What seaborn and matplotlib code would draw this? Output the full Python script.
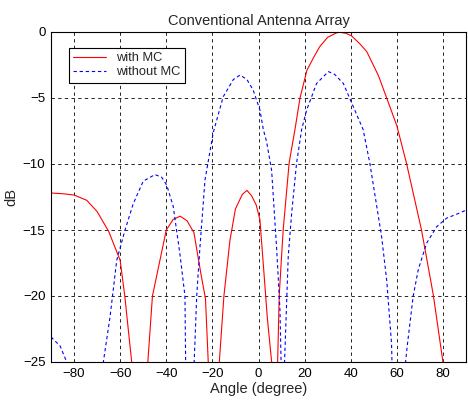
import matplotlib
matplotlib.use("Agg")
import matplotlib.pyplot as plt
import seaborn as sns

# with MC (red, solid)
angle_mc = [-90, -85, -80, -74.5, -70, -65, -60, -58, -55, -51, -48, -46, -40, -37,
            -34, -31, -28, -25, -23, -21.8, -19.5, -17, -15, -12.4, -10, -7, -5, -3,
            -1, 0.6, 2, 3.8, 5.7, 7, 8.3, 9, 10.7, 13.3, 15.8, 18, 21, 24, 26.6, 30,
            34.6, 38, 40.4, 44, 47, 52, 55.6, 60, 64.2, 70.7, 75.8, 80, 84, 90]
db_mc = [-12.2, -12.25, -12.35, -12.75, -13.6, -15.1, -17.3, -20.0, -25, -35, -25, -20,
         -15, -14.2, -13.95, -14.3, -15.2, -18.3, -20.2, -25, -38, -25, -20, -15.8,
         -13.4, -12.3, -12.0, -12.4, -13.1, -14.2, -17.4, -21.6, -25, -40, -25, -19.9,
         -15.0, -9.9, -7.4, -5.0, -2.9, -1.9, -1.1, -0.4, 0.0, -0.1, -0.3, -0.9, -1.5,
         -3.3, -5.0, -7.1, -9.95, -15.0, -19.9, -25, -35, -40]

# without MC (blue, dashed)
angle_nomc = [-90, -86, -83.2, -75, -67.3, -64.4, -61.5, -57.9, -54.3, -50, -44.9, -42,
              -39.8, -37, -34.1, -31.9, -31.6, -29.8, -27.9, -26.8, -25.4, -23.2, -19.6,
              -15.3, -10.9, -8, -5, -2.3, 0.6, 2.1, 3.5, 5.7, 7.9, 9.3, 9.8, 10.5, 11.3,
              12.9, 14.4, 16.5, 18.7, 20.9, 25.2, 30.3, 33, 36.8, 41.1, 45.4, 48.3, 53.4,
              55.6, 57.7, 57.9, 61, 63.8, 64.5, 67.1, 69.3, 72.9, 77.3, 81.6, 86, 90]
db_nomc = [-23.1, -23.8, -25, -40, -25, -21.6, -17.3, -15.0, -13.0, -11.3, -10.8, -11.0,
           -11.6, -13.2, -16.8, -20.0, -25, -40, -25, -20.0, -16.3, -11.2, -7.6, -4.9,
           -3.6, -3.26, -3.6, -4.4, -5.9, -7.4, -8.3, -10.5, -16.5, -21.0, -25, -40, -25,
           -17.0, -13.7, -9.95, -7.4, -5.9, -3.9, -3.0, -3.2, -3.9, -5.65, -7.4, -9.95,
           -15.5, -18.8, -23.6, -25, -40, -25, -23.8, -20.0, -18.0, -16.0, -14.75, -14.1,
           -13.8, -13.5]

x_ticks = [-80, -60, -40, -20, 0, 20, 40, 60, 80]
y_ticks = [0, -5, -10, -15, -20, -25]

sns.set_style("white")
plt.rcParams["font.family"] = ["Liberation Sans", "DejaVu Sans"]
plt.rcParams["font.size"] = 9

fig = plt.figure(figsize=(4.68, 4.05), dpi=100)
ax = fig.add_axes([51 / 468, 43 / 405, 415 / 468, 330 / 405])

sns.lineplot(x=angle_mc, y=db_mc, ax=ax, color="red", linewidth=0.8,
             label="with MC", sort=False)
sns.lineplot(x=angle_nomc, y=db_nomc, ax=ax, color="blue", linewidth=0.8,
             linestyle=(0, (3, 2.5)), label="without MC", sort=False)

ax.set_xlim(-90, 90)
ax.set_ylim(-25, 0)
ax.set_xticks(x_ticks)
ax.set_yticks(y_ticks)
ax.grid(True, color="black", linestyle=(0, (4, 4)), linewidth=0.6)
ax.tick_params(direction="in", length=3, colors="black", labelsize=9.5, pad=4)
for s in ax.spines.values():
    s.set_color("black")
    s.set_linewidth(0.8)

ax.set_title("Conventional Antenna Array", fontsize=10.5, pad=5)
ax.set_xlabel("Angle (degree)", fontsize=10.5, labelpad=2)
ax.set_ylabel("dB", fontsize=10.5, labelpad=3)

leg = ax.legend(loc="upper left", bbox_to_anchor=(0.043, 0.952), borderaxespad=0,
                fancybox=False, edgecolor="black", framealpha=1, fontsize=9.3,
                handlelength=2.5, borderpad=0.35, labelspacing=0.15)
leg.get_frame().set_linewidth(0.8)

fig.savefig("out.png", dpi=100)
